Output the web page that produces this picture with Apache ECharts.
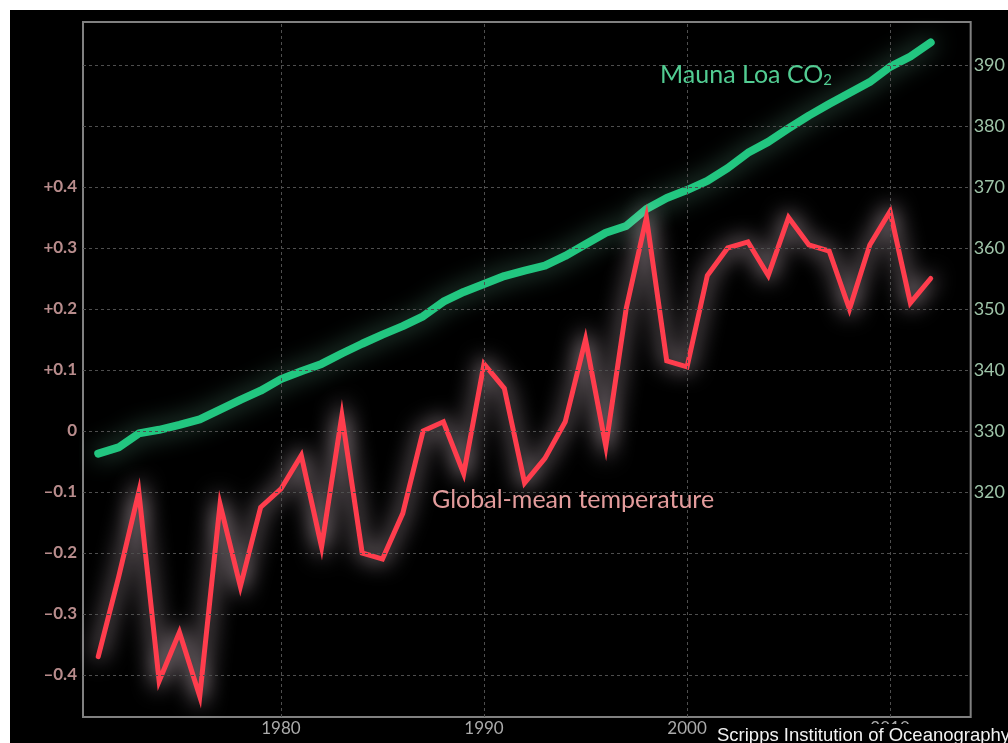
<!DOCTYPE html>
<html><head><meta charset="utf-8">
<script src="https://cdn.jsdelivr.net/npm/echarts@6/dist/echarts.min.js"></script>
<style>html,body{margin:0;padding:0;background:#fff;width:1008px;height:743px;overflow:hidden}
#c{position:absolute;left:10px;top:10px;width:998px;height:733px;background:#000}</style>
</head><body><div id="c"></div><script>
const years = [1971,1972,1973,1974,1975,1976,1977,1978,1979,1980,1981,1982,1983,1984,1985,1986,1987,1988,1989,1990,1991,1992,1993,1994,1995,1996,1997,1998,1999,2000,2001,2002,2003,2004,2005,2006,2007,2008,2009,2010,2011,2012];
const temperature = [-0.37,-0.24,-0.10,-0.41,-0.33,-0.435,-0.12,-0.255,-0.125,-0.095,-0.04,-0.19,0.025,-0.20,-0.21,-0.135,0.00,0.015,-0.07,0.11,0.07,-0.085,-0.045,0.015,0.15,-0.025,0.20,0.35,0.115,0.105,0.255,0.30,0.31,0.255,0.35,0.305,0.295,0.20,0.305,0.36,0.21,0.25];
const co2 = [326.3,327.3,329.6,330.2,331.0,331.9,333.5,335.1,336.6,338.5,339.8,341.0,342.7,344.3,345.8,347.2,348.8,351.2,352.8,354.1,355.4,356.3,357.1,358.7,360.6,362.5,363.6,366.4,368.2,369.5,371.0,373.1,375.6,377.4,379.6,381.7,383.6,385.4,387.2,389.7,391.4,393.7];
const tempTicks = [-0.4,-0.3,-0.2,-0.1,0,0.1,0.2,0.3,0.4];
const tempGridLines = [-0.4,-0.3,-0.2,-0.1,0,0.1,0.2,0.3,0.4,0.5,0.6];
const co2Ticks = [320,330,340,350,360,370,380,390];
const yearTicks = [1980,1990,2000,2010];

const chart = echarts.init(document.getElementById('c'));
const gridStyle = {color:'#4e4e4e', type:[3,3], width:1};
chart.setOption({
  backgroundColor:'#000',
  animation:false,
  grid:{left:73, top:12, right:32, bottom:26, show:true, borderColor:'#808080', borderWidth:2, backgroundColor:'transparent'},
  xAxis:{type:'value', min:1970.25, max:2013.97,
    axisLine:{show:false}, axisTick:{show:false}, splitLine:{show:false},
    axisLabel:{customValues:yearTicks, color:'#ababab', fontSize:17, fontFamily:'Lato', margin:3, formatter:v=>String(v)}},
  yAxis:[
    {type:'value', min:-0.4689, max:0.6705, position:'left',
      axisLine:{show:false}, axisTick:{show:false}, splitLine:{show:false},
      axisLabel:{customValues:tempTicks, color:'#b88c8c', fontSize:17, fontFamily:'Lato', fontWeight:'bold', margin:6,
        formatter:v=>{ const r=Math.round(v*10)/10; return r===0?'0':(r>0?'+'+r.toFixed(1):'–'+Math.abs(r).toFixed(1)); }}},
    {type:'value', min:283.11, max:397.05, position:'right',
      axisLine:{show:false}, axisTick:{show:false}, splitLine:{show:false},
      axisLabel:{customValues:co2Ticks, color:'#9ec4a8', fontSize:18, fontFamily:'Lato', margin:3, formatter:v=>String(v)}}
  ],
  series:[
    {type:'line', data:[], xAxisIndex:0, yAxisIndex:0, z:1, silent:true,
      markLine:{silent:true, symbol:'none', label:{show:false}, lineStyle:gridStyle,
        data: tempGridLines.map(v=>({yAxis:v})).concat(yearTicks.map(v=>({xAxis:v})))}},
    {name:'Mauna Loa CO2', type:'line', yAxisIndex:1, z:3, showSymbol:false, smooth:false,
      data: years.map((y,i)=>[y,co2[i]]),
      lineStyle:{color:'#22c680', width:8, cap:'round', join:'round', shadowBlur:24, shadowColor:'rgba(150,255,210,0.45)'}},
    {name:'Global-mean temperature', type:'line', yAxisIndex:0, z:4, showSymbol:false,
      data: years.map((y,i)=>[y,temperature[i]]),
      lineStyle:{color:'#ff3d4d', width:5, cap:'round', join:'miter', shadowBlur:22, shadowColor:'rgba(255,230,242,1)'}}
  ],
  graphic:[
    {type:'text', left:650, top:52, z:10, style:{text:'Mauna Loa CO{s|2}', fill:'#52cc92', font:'25px Lato',
      rich:{s:{fontSize:15, fill:'#52cc92', fontFamily:'Lato', verticalAlign:'bottom', padding:[12,0,0,0]}}}},
    {type:'text', left:422, top:477, z:10, style:{text:'Global-mean temperature', fill:'#e39c9c', font:'25px Lato'}},
    {type:'text', left:705, top:714, z:20, style:{text:'Scripps Institution of Oceanography', fill:'#f2f2f2', font:'18.5px "Liberation Sans"', backgroundColor:'#000', padding:[2,2,2,2]}}
  ]
});
</script></body></html>
